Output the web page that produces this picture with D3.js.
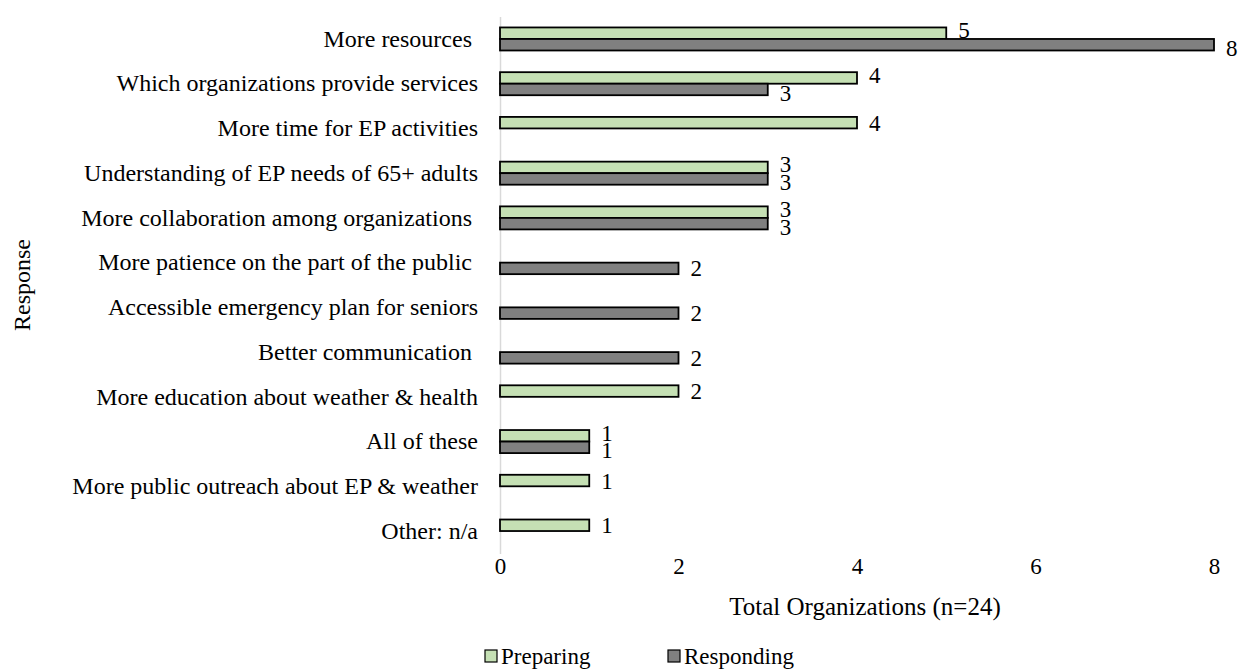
<!DOCTYPE html>
<html>
<head>
<meta charset="utf-8">
<script src="https://cdn.jsdelivr.net/npm/d3@7"></script>
<style>
  body { margin: 0; background: #fff; }
  svg { font-family: "Liberation Serif", "Times New Roman", serif; }
</style>
</head>
<body>
<svg id="chart"></svg>
<script>
const CATEGORIES = [
  "More resources ",
  "Which organizations provide services",
  "More time for EP activities",
  "Understanding of EP needs of 65+ adults",
  "More collaboration among organizations ",
  "More patience on the part of the public ",
  "Accessible emergency plan for seniors",
  "Better communication ",
  "More education about weather & health",
  "All of these",
  "More public outreach about EP & weather",
  "Other: n/a",
];
const SERIES = ["Preparing", "Responding"];
const PREPARING = [5, 4, 4, 3, 3, 0, 0, 0, 2, 1, 1, 1];
const RESPONDING = [8, 3, 0, 3, 3, 2, 2, 2, 0, 1, 0, 0];
const X_TICKS = [0, 2, 4, 6, 8];

const COLORS = { Preparing: "#C5E0B4", Responding: "#808080" };
const FONT = "Liberation Serif, Times New Roman, serif";

const width = 1242;
const height = 669;
const margin = { top: 16.6, right: 28, bottom: 115.6, left: 500 };
const innerWidth = 1214 - margin.left;
const innerHeight = height - margin.top - margin.bottom;

const rows = CATEGORIES.map((c, i) => ({
  cat: c,
  both: PREPARING[i] > 0 && RESPONDING[i] > 0,
  values: [
    { key: "Preparing", value: PREPARING[i] },
    { key: "Responding", value: RESPONDING[i] },
  ],
}));

const svg = d3.select("#chart").attr("width", width).attr("height", height);
const chart = svg
  .append("g")
  .attr("transform", `translate(${margin.left}, ${margin.top})`);

const xscale = d3.scaleLinear().domain([0, 8]).range([0, innerWidth]);
const yscale = d3
  .scaleBand()
  .domain(CATEGORIES)
  .range([0, innerHeight])
  .paddingInner(0.485)
  .paddingOuter(0.2425);
const sub = d3.scaleBand().domain(SERIES).range([0, yscale.bandwidth()]);

// category axis (left)
const yaxis = d3.axisLeft(yscale).tickSize(0).tickPadding(22);
chart
  .append("g")
  .call(yaxis)
  .call((g) => g.select(".domain").attr("stroke", "#D9D9D9").attr("stroke-width", 1.5))
  .selectAll("text")
  .style("font-size", "24px")
  .style("white-space", "pre")
  .attr("fill", "#000")
  .attr("font-family", FONT);

// value axis (bottom), no line
const xaxis = d3.axisBottom(xscale).tickValues(X_TICKS).tickSize(0).tickPadding(4);
chart
  .append("g")
  .attr("transform", `translate(0, ${innerHeight})`)
  .call(xaxis)
  .call((g) => g.select(".domain").remove())
  .selectAll("text")
  .style("font-size", "23px")
  .attr("fill", "#000")
  .attr("font-family", FONT);

// bars
const groups = chart
  .selectAll(".row")
  .data(rows)
  .join("g")
  .attr("class", "row")
  .attr("transform", (d) => `translate(0, ${yscale(d.cat)})`);

groups
  .selectAll("rect")
  .data((d) => d.values.filter((v) => v.value > 0))
  .join("rect")
  .attr("x", xscale(0))
  .attr("y", (d) => sub(d.key))
  .attr("width", (d) => xscale(d.value) - xscale(0))
  .attr("height", sub.bandwidth())
  .attr("fill", (d) => COLORS[d.key])
  .attr("stroke", "#000")
  .attr("stroke-width", 1.8);

// value labels; when both bars are present they are spread a little apart
groups
  .selectAll("text")
  .data((d) => d.values.filter((v) => v.value > 0).map((v) => ({ ...v, both: d.both })))
  .join("text")
  .attr("x", (d) => xscale(d.value) + 12)
  .attr("y", (d) => {
    const shift = d.both ? (d.key === "Preparing" ? -3 : 3) : 0;
    return sub(d.key) + sub.bandwidth() / 2 + shift;
  })
  .attr("dy", "0.35em")
  .style("font-size", "23px")
  .text((d) => d.value);

// axis titles
svg
  .append("text")
  .attr("x", 865)
  .attr("y", 615)
  .attr("text-anchor", "middle")
  .style("font-size", "25px")
  .text("Total Organizations (n=24)");

svg
  .append("text")
  .attr("transform", "rotate(-90)")
  .attr("x", -(margin.top + innerHeight / 2))
  .attr("y", 30)
  .attr("text-anchor", "middle")
  .style("font-size", "24px")
  .text("Response");

// legend
const legendX = [485, 668];
const legend = svg
  .selectAll(".legend")
  .data(SERIES)
  .join("g")
  .attr("class", "legend")
  .attr("transform", (d, i) => `translate(${legendX[i]}, 656)`);

legend
  .append("rect")
  .attr("x", 0)
  .attr("y", -6)
  .attr("width", 12)
  .attr("height", 12)
  .attr("fill", (d) => COLORS[d])
  .attr("stroke", "#000")
  .attr("stroke-width", 1.2);

legend
  .append("text")
  .attr("x", 16)
  .attr("y", 0)
  .attr("dy", "0.35em")
  .style("font-size", "23px")
  .text((d) => d);
</script>
</body>
</html>
